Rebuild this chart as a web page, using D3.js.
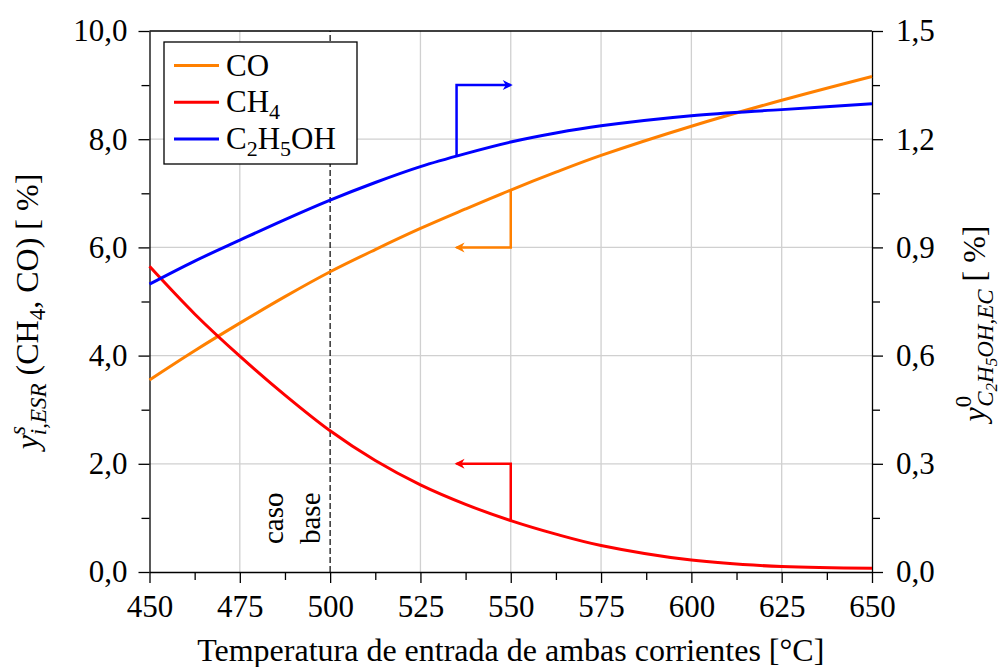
<!DOCTYPE html>
<html>
<head>
<meta charset="utf-8">
<script src="https://cdn.jsdelivr.net/npm/d3@7"></script>
<style>
  body { margin: 0; background: #fff; }
  svg { font-family: "Liberation Serif", "DejaVu Serif", serif; }
</style>
</head>
<body>
<svg id="chart" width="1000" height="667"></svg>
<script>
// temperatures [°C]
const temps = [450, 462.5, 475, 487.5, 500, 512.5, 525, 537.5, 550, 562.5, 575, 600, 625, 650];
// left axis series [%]
const coVals  = [3.55, 4.09, 4.60, 5.09, 5.55, 5.96, 6.35, 6.71, 7.06, 7.39, 7.70, 8.24, 8.72, 9.16];
const ch4Vals = [5.65, 4.77, 3.99, 3.27, 2.61, 2.06, 1.61, 1.25, 0.95, 0.70, 0.49, 0.22, 0.10, 0.07];
// right axis series [%]
const etohVals = [0.798, 0.862, 0.920, 0.977, 1.031, 1.080, 1.124, 1.160, 1.192, 1.217, 1.237, 1.265, 1.282, 1.298];

const xTicks = [450, 475, 500, 525, 550, 575, 600, 625, 650];
const yLeftTicks = [0, 2, 4, 6, 8, 10];
const yRightTicks = [0, 0.3, 0.6, 0.9, 1.2, 1.5];

const margin = { top: 31, right: 128, bottom: 95, left: 149.5 };
const width = 1000, height = 667;

const svg = d3.select("#chart");

const x = d3.scaleLinear().domain([450, 650]).range([margin.left, width - margin.right]);
const yL = d3.scaleLinear().domain([0, 10]).range([height - margin.bottom, margin.top]);
const yR = d3.scaleLinear().domain([0, 1.5]).range([height - margin.bottom, margin.top]);

const fmt = d => d3.format(".1f")(d).replace(".", ",");
const grid = "#d0d0d0";

// grid
svg.append("g").selectAll("line")
  .data(xTicks.filter(d => d > 450 && d < 650 && d !== 500))
  .join("line")
  .attr("x1", d => x(d)).attr("x2", d => x(d))
  .attr("y1", yL(0)).attr("y2", yL(10))
  .style("stroke", grid).style("stroke-width", 1.3);

svg.append("g").selectAll("line")
  .data(yLeftTicks.filter(d => d > 0 && d < 10))
  .join("line")
  .attr("x1", x(450)).attr("x2", x(650))
  .attr("y1", d => yL(d)).attr("y2", d => yL(d))
  .style("stroke", grid).style("stroke-width", 1.3);

// caso base line
svg.append("line")
  .attr("x1", x(500)).attr("x2", x(500))
  .attr("y1", yL(0)).attr("y2", yL(10))
  .style("stroke", "black").style("stroke-width", 1.2)
  .style("stroke-dasharray", "6,3");

const cb = svg.append("text")
  .attr("transform", `translate(${x(500) - 10}, ${yL(0) - 28}) rotate(-90)`)
  .style("font-size", "29px");
cb.append("tspan").attr("x", 0).attr("dy", "-1.28em").text("caso");
cb.append("tspan").attr("x", 0).attr("dy", "1.28em").text("base");

// axes
function styleAxis(g) {
  g.attr("font-family", null).attr("font-size", null);
  g.selectAll("path").style("stroke", "black").style("stroke-width", 1.3);
  g.selectAll("line").style("stroke", "black").style("stroke-width", 1.3);
  g.selectAll("text").style("font-size", "31px").style("fill", "black");
}

const xAxis = svg.append("g")
  .attr("transform", `translate(0, ${yL(0)})`)
  .call(d3.axisBottom(x).tickValues(xTicks).tickSize(11).tickPadding(12).tickSizeOuter(0).tickFormat(d3.format("d")));
styleAxis(xAxis);
svg.append("g")
  .attr("transform", `translate(0, ${yL(0)})`)
  .call(d3.axisBottom(x).tickValues(d3.range(462.5, 650, 25)).tickSize(8).tickFormat(""))
  .call(g => g.select(".domain").remove())
  .call(styleAxis);

svg.append("line")
  .attr("x1", x(450)).attr("x2", x(650)).attr("y1", yL(10)).attr("y2", yL(10))
  .style("stroke", "black").style("stroke-width", 1.3);

const yAxisL = svg.append("g")
  .attr("transform", `translate(${x(450)}, 0)`)
  .call(d3.axisLeft(yL).tickValues(yLeftTicks).tickSize(11).tickPadding(11).tickSizeOuter(0).tickFormat(fmt));
styleAxis(yAxisL);
svg.append("g")
  .attr("transform", `translate(${x(450)}, 0)`)
  .call(d3.axisLeft(yL).tickValues([1, 3, 5, 7, 9]).tickSize(8).tickFormat(""))
  .call(g => g.select(".domain").remove())
  .call(styleAxis);

const yAxisR = svg.append("g")
  .attr("transform", `translate(${x(650)}, 0)`)
  .call(d3.axisRight(yR).tickValues(yRightTicks).tickSize(11).tickPadding(13).tickSizeOuter(0).tickFormat(fmt));
styleAxis(yAxisR);
svg.append("g")
  .attr("transform", `translate(${x(650)}, 0)`)
  .call(d3.axisRight(yR).tickValues([0.15, 0.45, 0.75, 1.05, 1.35]).tickSize(8).tickFormat(""))
  .call(g => g.select(".domain").remove())
  .call(styleAxis);

// series
const lineL = d3.line().x((d, i) => x(temps[i])).y(d => yL(d)).curve(d3.curveCatmullRom.alpha(0.5));
const lineR = d3.line().x((d, i) => x(temps[i])).y(d => yR(d)).curve(d3.curveCatmullRom.alpha(0.5));

const series = [
  { name: "CO", vals: coVals, color: "#ff8000", line: lineL },
  { name: "CH4", vals: ch4Vals, color: "#ff0000", line: lineL },
  { name: "C2H5OH", vals: etohVals, color: "#0000ff", line: lineR }
];

svg.append("g").selectAll("path")
  .data(series)
  .join("path")
  .attr("d", d => d.line(d.vals))
  .style("fill", "none")
  .style("stroke", d => d.color)
  .style("stroke-width", 3);

// arrow markers
const defs = svg.append("defs");
series.forEach(s => {
  defs.append("marker")
    .attr("id", "arr-" + s.name)
    .attr("viewBox", "-1 -6 12 12")
    .attr("refX", 8).attr("refY", 0)
    .attr("markerWidth", 12).attr("markerHeight", 12)
    .attr("markerUnits", "userSpaceOnUse")
    .attr("orient", "auto")
    .append("path")
    .attr("d", "M0,-5 L10,0 L0,5 L3,0 Z")
    .style("fill", s.color);
});

// axis pointers: series, temp on curve, corner value, tip temp
const interp = (vals, t) => d3.scaleLinear().domain(temps).range(vals)(t);
const pointers = [
  { s: series[2], t: 535, yv: 1.35, tip: 550, sc: yR },
  { s: series[0], t: 550, yv: 6.0, tip: 535, sc: yL },
  { s: series[1], t: 550, yv: 2.0, tip: 535, sc: yL }
];
svg.append("g").selectAll("path")
  .data(pointers)
  .join("path")
  .attr("d", p => {
    const y0 = p.sc(interp(p.s.vals, p.t));
    return `M${x(p.t)},${y0} L${x(p.t)},${p.sc(p.yv)} L${x(p.tip)},${p.sc(p.yv)}`;
  })
  .style("fill", "none")
  .style("stroke", p => p.s.color)
  .style("stroke-width", 2.5)
  .attr("marker-end", p => `url(#arr-${p.s.name})`);

// legend
const lg = svg.append("g").attr("transform", "translate(164, 42)");
lg.append("rect").attr("width", 193).attr("height", 122)
  .style("fill", "white").style("stroke", "black").style("stroke-width", 1.3);
const legendLabels = [
  [["CO", null]],
  [["CH", null], ["4", "sub"]],
  [["C", null], ["2", "sub"], ["H", null], ["5", "sub"], ["OH", null]]
];
series.forEach((s, i) => {
  const yy = 23.5 + i * 36.8;
  lg.append("line").attr("x1", 10).attr("x2", 55).attr("y1", yy).attr("y2", yy)
    .style("stroke", s.color).style("stroke-width", 3);
  const t = lg.append("text").attr("x", 62).attr("y", yy + 10).style("font-size", "31px");
  legendLabels[i].forEach(([txt, kind], j) => {
    const ts = t.append("tspan").text(txt);
    if (kind === "sub") ts.style("font-size", "22px").attr("dy", 7);
    else if (j > 0) ts.attr("dy", -7);
  });
});

// axis titles
svg.append("text")
  .attr("x", (x(450) + x(650)) / 2).attr("y", 661)
  .attr("text-anchor", "middle").style("font-size", "32px")
  .text("Temperatura de entrada de ambas corrientes [°C]");

const ylt = svg.append("text")
  .attr("transform", `translate(38, ${(yL(0) + yL(10)) / 2 + 10}) rotate(-90)`)
  .attr("text-anchor", "middle").style("font-size", "32px");
ylt.append("tspan").style("font-style", "italic").text("y");
ylt.append("tspan").style("font-style", "italic").style("font-size", "23px").attr("dy", -13).text("s");
ylt.append("tspan").style("font-style", "italic").style("font-size", "23px").attr("dx", -9).attr("dy", 21).text("i,ESR");
ylt.append("tspan").attr("dy", -8).text(" (CH");
ylt.append("tspan").style("font-size", "23px").attr("dy", 7).text("4");
ylt.append("tspan").attr("dy", -7).text(", CO) [ %]");

const yrt = svg.append("text")
  .attr("transform", `translate(985, ${(yR(0) + yR(1.5)) / 2 + 22}) rotate(-90)`)
  .attr("text-anchor", "middle").style("font-size", "32px");
yrt.append("tspan").style("font-style", "italic").text("y");
yrt.append("tspan").style("font-size", "23px").attr("dy", -14).text("0");
yrt.append("tspan").style("font-style", "italic").style("font-size", "23px").attr("dx", -11).attr("dy", 22).text("C");
yrt.append("tspan").style("font-style", "italic").style("font-size", "17px").attr("dy", 4).text("2");
yrt.append("tspan").style("font-style", "italic").style("font-size", "23px").attr("dy", -4).text("H");
yrt.append("tspan").style("font-style", "italic").style("font-size", "17px").attr("dy", 4).text("5");
yrt.append("tspan").style("font-style", "italic").style("font-size", "23px").attr("dy", -4).text("OH,EC");
yrt.append("tspan").attr("dy", -8).text(" [ %]");
</script>
</body>
</html>
